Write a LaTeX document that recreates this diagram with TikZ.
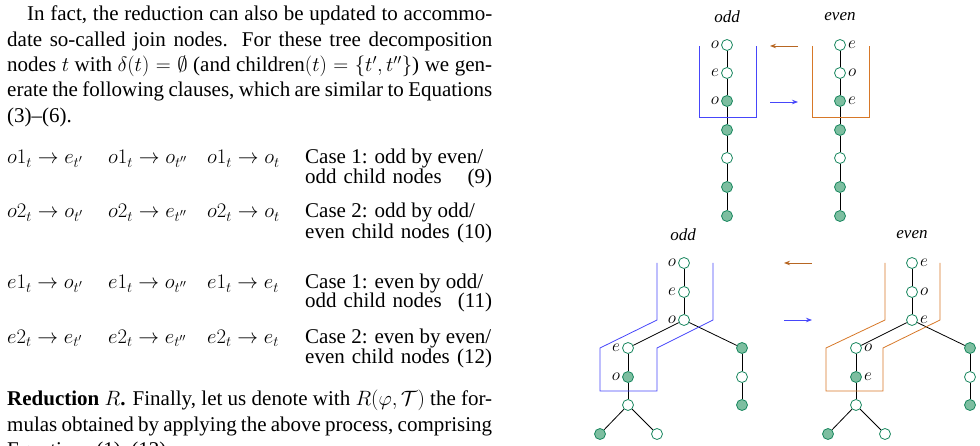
\documentclass[tikz,border=0pt]{standalone}
\usepackage{amsmath}
\usepackage{amssymb}
\usepackage{fontspec}
\setmainfont{Liberation Serif}
\usepackage{tikz}
\usetikzlibrary{arrows.meta}
\usetikzlibrary{positioning}

\definecolor{tdgreen}{RGB}{25,135,95}
\definecolor{tdfill}{RGB}{125,190,160}
\definecolor{tdblue}{RGB}{70,70,250}
\definecolor{tdorange}{RGB}{215,120,40}

\tikzset{
  vx/.style={circle, draw=tdgreen, fill=white, thick, minimum size=11pt, inner sep=0pt},
  vf/.style={vx, fill=tdfill},
  lbl/.style={font=\fontsize{17}{17}\selectfont, inner sep=1pt},
  ttl/.style={font=\fontsize{17}{17}\selectfont\itshape},
  txt/.style={font=\fontsize{21}{25.3}\selectfont, inner sep=0pt},
  link/.style={thick, black},
  bag/.style={thick},
  move/.style={thick, -{Stealth[length=6pt]}}
}

\begin{document}
\begin{tikzpicture}[x=1pt, y=-1pt]
            \useasboundingbox (0,0) rectangle (980,446);
            \clip (0,0) rectangle (980,446);

            % text column
            \node[txt, anchor=north west, text width=485pt, align=justify] (para) at (7,6)
              {\hspace*{20pt}In fact, the reduction can also be updated to accommodate so-called join nodes. For these tree decomposition nodes $t$ with $\delta(t) = \emptyset$ (and $\mathrm{children}(t) = \{t', t''\}$) we generate the following clauses, which are similar to Equations (3)--(6).};

            \node[txt, anchor=base west] (o1a) at (7,164) {$o1_t \rightarrow e_{t'}$};
            \node[txt, anchor=base west] (o1b) at (108,164) {$o1_t \rightarrow o_{t''}$};
            \node[txt, anchor=base west] (o1c) at (207,164) {$o1_t \rightarrow o_t$};
            \node[txt, anchor=base west] (o1d) at (305,164) {Case 1: odd by even/};
            \node[txt, anchor=base west, text width=187pt] (o1e) at (305,184) {odd child nodes\hfill(9)};

            \node[txt, anchor=base west] (o2a) at (7,218) {$o2_t \rightarrow o_{t'}$};
            \node[txt, anchor=base west] (o2b) at (108,218) {$o2_t \rightarrow e_{t''}$};
            \node[txt, anchor=base west] (o2c) at (207,218) {$o2_t \rightarrow o_t$};
            \node[txt, anchor=base west] (o2d) at (305,218) {Case 2: odd by odd/};
            \node[txt, anchor=base west, text width=187pt] (o2e) at (305,239) {even child nodes\hfill(10)};

            \node[txt, anchor=base west] (e1a) at (7,289) {$e1_t \rightarrow o_{t'}$};
            \node[txt, anchor=base west] (e1b) at (108,289) {$e1_t \rightarrow o_{t''}$};
            \node[txt, anchor=base west] (e1c) at (207,289) {$e1_t \rightarrow e_t$};
            \node[txt, anchor=base west] (e1d) at (305,289) {Case 1: even by odd/};
            \node[txt, anchor=base west, text width=187pt] (e1e) at (305,308) {odd child nodes\hfill(11)};

            \node[txt, anchor=base west] (e2a) at (7,343) {$e2_t \rightarrow e_{t'}$};
            \node[txt, anchor=base west] (e2b) at (108,343) {$e2_t \rightarrow e_{t''}$};
            \node[txt, anchor=base west] (e2c) at (207,343) {$e2_t \rightarrow e_t$};
            \node[txt, anchor=base west] (e2d) at (305,343) {Case 2: even by even/};
            \node[txt, anchor=base west, text width=187pt] (e2e) at (305,363) {even child nodes\hfill(12)};

            \node[txt, anchor=north west, text width=485pt, align=justify] (red) at (7,390)
              {\textbf{Reduction} $R$\textbf{.} Finally, let us denote with $R(\varphi, \mathcal{T})$ the formulas obtained by applying the above process, comprising Equations (1)--(12).};

            % top: paths
            \node[ttl] (todd) at (727,17) {odd};
            \node[ttl] (teven) at (840,17) {even};
            \foreach \i/\y/\s in {1/45/vx, 2/73/vx, 3/101/vf, 4/130/vf, 5/158/vx, 6/187/vf, 7/216/vf} {
              \node[\s] (po\i) at (727,\y) {};
              \node[\s] (pe\i) at (840,\y) {};
            }
            \foreach \a/\b in {1/2, 2/3, 3/4, 4/5, 5/6, 6/7} {
              \draw[link] (po\a) -- (po\b);
              \draw[link] (pe\a) -- (pe\b);
            }
            \foreach \i/\l/\r in {1/o/e, 2/e/o, 3/o/e} {
              \node[lbl, left=1pt of po\i] {$\l$};
              \node[lbl, right=1pt of pe\i] {$\r$};
            }
            \draw[bag, tdblue] (699,46) -- (699,117) -- (756,117) -- (756,46);
            \draw[bag, tdorange] (812,46) -- (812,117) -- (869,117) -- (869,46);
            \coordinate (pa1) at (798,46);
            \coordinate (pa2) at (770,46);
            \coordinate (pb1) at (770,102);
            \coordinate (pb2) at (798,102);
            \draw[move, tdorange!85!black] (pa1) -- (pa2);
            \draw[move, tdblue] (pb1) -- (pb2);

            % bottom: join trees
            \node[ttl] (bodd) at (683,235) {odd};
            \node[ttl] (beven) at (912,235) {even};
            \foreach \tr/\dx in {jo/0, je/228} {
              \node[vx] (\tr1) at (684+\dx,263) {};
              \node[vx] (\tr2) at (684+\dx,292) {};
              \node[vx] (\tr3) at (684+\dx,320) {};
              \node[vx] (\tr4) at (628+\dx,348) {};
              \node[vf] (\tr5) at (628+\dx,377) {};
              \node[vx] (\tr6) at (628+\dx,405) {};
              \node[vf] (\tr7) at (600+\dx,434) {};
              \node[vx] (\tr8) at (657+\dx,434) {};
              \node[vf] (\tr9) at (742+\dx,348) {};
              \node[vx] (\tr10) at (742+\dx,377) {};
              \node[vf] (\tr11) at (742+\dx,405) {};
              \foreach \a/\b in {1/2, 2/3, 3/4, 4/5, 5/6, 6/7, 6/8, 3/9, 9/10, 10/11}
                \draw[link] (\tr\a) -- (\tr\b);
            }
            \foreach \i/\l in {1/o, 2/e, 3/o, 4/e, 5/o} \node[lbl, left=1pt of jo\i] {$\l$};
            \foreach \i/\l in {1/e, 2/o, 3/e, 4/o, 5/e} \node[lbl, right=1pt of je\i] {$\l$};
            \draw[bag, tdblue] (657,263) -- (657,320) -- (600,348) -- (600,391) -- (657,391)
              -- (657,348) -- (713,320) -- (713,263);
            \draw[bag, tdorange] (885,263) -- (885,320) -- (826,348) -- (826,391) -- (883,391)
              -- (883,348) -- (940,320) -- (940,263);
            \coordinate (ja1) at (812,263);
            \coordinate (ja2) at (784,263);
            \coordinate (jb1) at (784,320);
            \coordinate (jb2) at (812,320);
            \draw[move, tdorange!85!black] (ja1) -- (ja2);
            \draw[move, tdblue] (jb1) -- (jb2);
\end{tikzpicture}
\end{document}
